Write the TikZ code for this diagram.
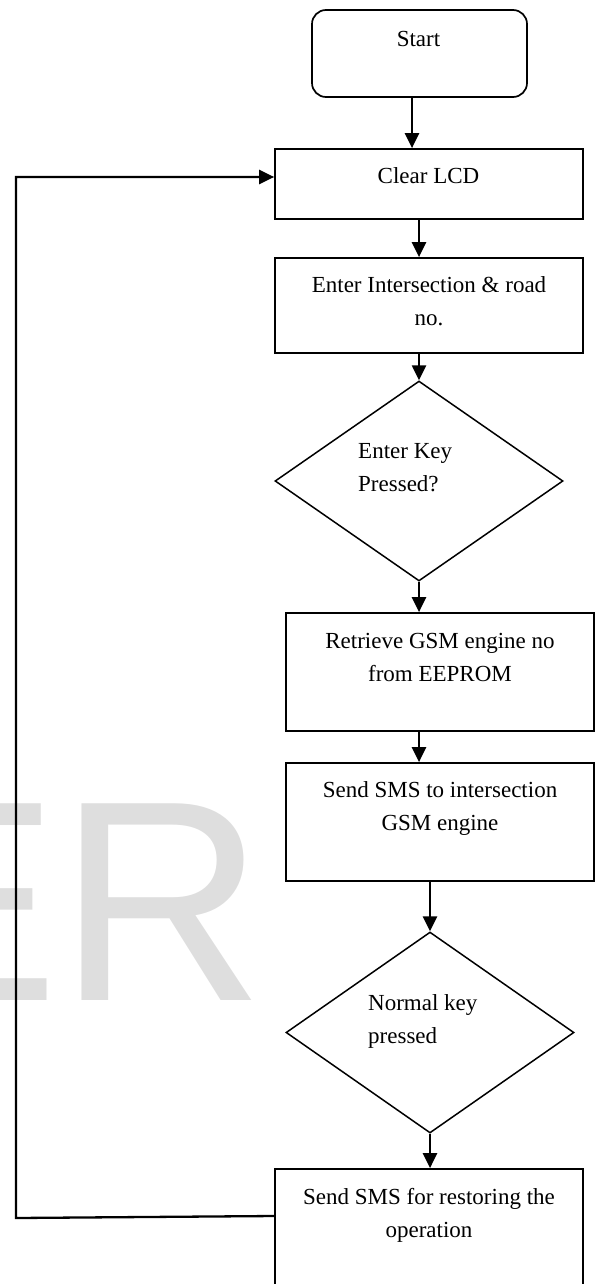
\documentclass[tikz,border=0pt]{standalone}
\usepackage{fontspec}
\setmainfont{Liberation Serif}
\newfontfamily\wmfont{Liberation Sans}
\usetikzlibrary{shapes.geometric, arrows.meta, positioning}

\begin{document}
\begin{tikzpicture}[x=1pt, y=-1pt,
        box/.style={draw=black, line width=1.7pt, minimum width=308pt, inner sep=0pt},
        decision/.style={draw=black, diamond, line width=1.5pt, inner sep=0pt},
        txt/.style={font=\fontsize{23}{33}\selectfont, inner sep=0pt},
        flow/.style={draw=black, line width=2.6pt, -{Triangle[length=15pt,width=14pt]}},
        loopback/.style={draw=black, line width=2.3pt, -{Triangle[length=15pt,width=14pt]}}]
        \useasboundingbox (0,0) rectangle (597,1284);
        \clip (0,0) rectangle (597,1284);
        \node [anchor=base west, inner sep=0pt, text=black!13, font=\wmfont\fontsize{286}{286}\selectfont] (mark) at (-132,1000) {ER};
        \node [draw=black, line width=1.7pt, rounded corners=14pt, minimum width=215pt, minimum height=87pt] (start) at (419.5,53.5) {};
        \node [txt] (starttext) at (418.5,39) {Start};
        \node [box, minimum height=70pt] (clear) at (429,184) {};
        \node [txt] (cleartext) at (428.5,176) {Clear LCD};
        \node [box, minimum height=95pt] (enter) at (429,305.5) {};
        \node [txt, align=center] (entertext) at (429,301) {Enter Intersection \& road\\no.};
        \node [decision, minimum width=288pt, minimum height=200pt] (keyq) at (419,481) {};
        \node [txt, align=left, anchor=west] (keyqtext) at (358,468) {Enter Key\\Pressed?};
        \node [box, minimum height=118pt] (fetch) at (440,672) {};
        \node [txt, align=center] (fetchtext) at (440,657) {Retrieve GSM engine no\\from EEPROM};
        \node [box, minimum height=118pt] (sms) at (440,822) {};
        \node [txt, align=center] (smstext) at (440,808.5) {Send SMS to intersection\\GSM engine};
        \node [decision, minimum width=288pt, minimum height=201pt] (normalq) at (430,1032.5) {};
        \node [txt, align=left, anchor=west] (normalqtext) at (368,1021.5) {Normal key\\pressed};
        \node [box, minimum height=140pt] (restore) at (429,1239) {};
        \node [txt, align=center] (restoretext) at (429,1215.5) {Send SMS for restoring the\\operation};
        \coordinate (loopbot) at (16,1218);
        \coordinate (looptop) at (16,177);
        \draw [flow] ([xshift=-7.5pt]start.south) -- ([xshift=-7.5pt]start.south |- clear.north);
        \draw [flow] (keyq.north |- clear.south) -- (keyq.north |- enter.north);
        \draw [flow] (keyq.north |- enter.south) -- (keyq.north);
        \draw [flow] (keyq.south) -- (keyq.south |- fetch.north);
        \draw [flow] (keyq.south |- fetch.south) -- (keyq.south |- sms.north);
        \draw [flow] (normalq.north |- sms.south) -- (normalq.north);
        \draw [flow] (normalq.south) -- (normalq.south |- restore.north);
        \draw [loopback] ([yshift=23pt]restore.west) -- (loopbot) -- (looptop) -- ([yshift=7pt]clear.west);
\end{tikzpicture}
\end{document}
